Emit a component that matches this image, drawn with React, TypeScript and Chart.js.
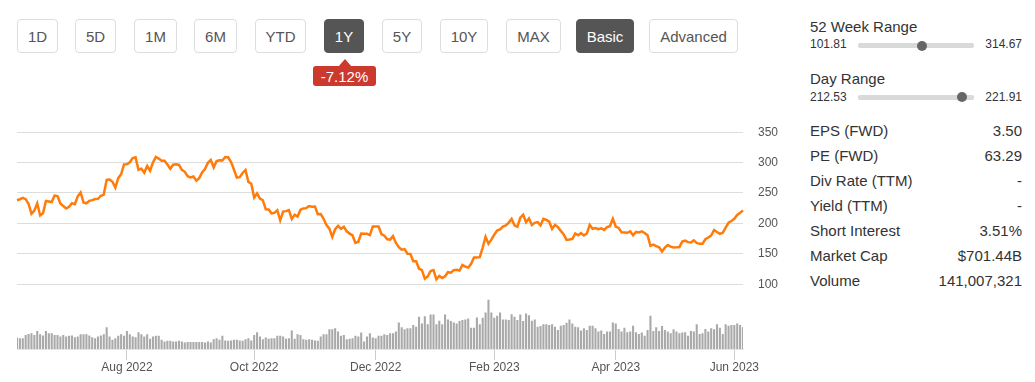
import React, { useEffect, useRef } from "react";
import { Chart, registerables } from "chart.js";

Chart.register(...registerables);

// ---- data ----
const START_DATE = "2022-06-06";
const END_DATE = "2023-06-06";
const HOLIDAYS = [
  "2022-06-20", "2022-07-04", "2022-09-05", "2022-11-24", "2022-12-26",
  "2023-01-02", "2023-01-16", "2023-02-20", "2023-04-07", "2023-05-29",
];
const MONTH_NAMES = ["Jan", "Feb", "Mar", "Apr", "May", "Jun", "Jul", "Aug", "Sep", "Oct", "Nov", "Dec"];
const X_TICK_MONTHS = ["2022-08", "2022-10", "2022-12", "2023-02", "2023-04", "2023-06"];
const PRICE_TICKS = [100, 150, 200, 250, 300, 350];

const PRICE = [
  // Jun 2022
  238.0, 239.7, 241.9, 239.9, 232.0, 215.7, 220.9, 233.0, 213.1, 216.8, 237.0, 236.1, 235.1, 245.7, 244.9, 232.7, 228.5, 224.5,
  // Jul
  227.3, 233.1, 231.7, 244.5, 250.8, 234.3, 233.1, 237.0, 238.3, 240.1, 240.5, 245.5, 247.4, 271.7, 272.2, 268.4, 258.9, 274.4, 280.8, 297.1,
  // Aug
  297.3, 300.6, 307.4, 308.6, 288.2, 290.0, 283.3, 294.4, 286.6, 300.0, 309.3, 306.6, 303.0, 302.9, 296.7, 289.9, 296.5, 297.1, 296.1, 288.1, 284.8, 277.7, 275.6,
  // Sep
  277.2, 270.2, 274.4, 283.7, 289.3, 299.7, 304.4, 292.1, 302.6, 303.8, 303.4, 309.1, 308.7, 300.8, 288.6, 275.3, 276.0, 282.9, 287.7, 268.2, 265.3,
  // Oct
  242.4, 249.4, 240.8, 238.1, 223.1, 223.0, 216.5, 217.2, 221.7, 205.0, 219.4, 220.2, 222.0, 207.3, 214.4, 211.3, 222.4, 224.6, 225.1, 228.5, 227.5,
  // Nov
  227.8, 215.0, 215.3, 207.5, 197.1, 191.3, 177.6, 190.7, 196.0, 191.0, 194.4, 186.9, 183.2, 180.2, 167.9, 169.9, 183.2, 182.9, 182.9, 180.8, 194.7,
  // Dec
  194.7, 194.9, 182.5, 179.8, 174.0, 173.4, 179.1, 167.8, 161.0, 156.8, 157.7, 150.2, 149.9, 137.8, 137.6, 125.4, 123.2, 109.1, 112.7, 121.8, 123.2,
  // Jan 2023
  108.1, 113.6, 110.3, 113.1, 119.8, 118.9, 123.2, 123.6, 122.4, 131.5, 128.8, 127.2, 133.4, 143.8, 143.9, 144.4, 160.3, 177.9, 166.7, 173.2,
  // Feb
  181.4, 188.3, 190.0, 194.8, 196.8, 201.3, 207.3, 196.9, 194.6, 209.3, 214.2, 202.0, 208.3, 197.4, 200.9, 202.1, 196.9, 207.6, 205.7,
  // Mar
  202.8, 190.9, 197.8, 193.8, 187.7, 182.0, 172.9, 173.4, 174.5, 183.3, 180.5, 184.1, 180.1, 183.3, 197.6, 191.2, 192.2, 190.4, 191.8, 189.2, 193.9, 195.3, 207.5,
  // Apr
  194.8, 192.6, 185.5, 185.1, 184.5, 186.8, 180.5, 185.9, 185.0, 187.0, 184.3, 180.6, 163.0, 165.1, 162.6, 160.7, 153.8, 160.2, 164.3,
  // May
  161.8, 160.3, 160.6, 161.2, 170.1, 171.8, 169.2, 168.5, 172.1, 168.0, 166.4, 166.5, 173.9, 176.9, 180.1, 188.9, 185.8, 182.9, 184.5, 193.2, 201.2, 203.9,
  // Jun 2023
  207.5, 214.0, 217.6, 221.3,
];

// volume, millions of shares
const VOLUME = [
  70, 66, 66, 86, 92, 96, 86, 110, 90, 82, 110, 96, 96, 86, 86, 76, 86, 76,
  80, 82, 72, 76, 90, 90, 90, 82, 72, 66, 76, 82, 90, 132, 76, 56, 66, 80, 90, 80,
  110, 90, 76, 72, 102, 90, 76, 90, 62, 76, 80, 80, 56, 46, 50, 50, 46, 46, 50, 46, 40, 42, 42,
  42, 42, 42, 42, 40, 46, 40, 60, 66, 56, 80, 52, 50, 52, 56, 56, 52, 50, 60, 66, 52,
  86, 102, 76, 60, 70, 62, 66, 66, 80, 80, 76, 62, 66, 112, 62, 90, 86, 60, 56, 60, 56,
  52, 50, 76, 90, 90, 120, 120, 126, 106, 80, 86, 60, 62, 66, 80, 76, 100, 46, 76, 96, 70,
  66, 80, 80, 90, 86, 96, 96, 106, 162, 132, 120, 126, 126, 146, 136, 196, 156, 200, 150, 210, 210,
  150, 172, 150, 210, 180, 170, 162, 156, 170, 176, 180, 186, 130, 130, 192, 150, 190, 222, 300, 222,
  190, 202, 222, 180, 180, 176, 212, 196, 176, 210, 170, 216, 206, 172, 180, 136, 140, 150, 150,
  146, 150, 136, 116, 142, 146, 160, 180, 156, 136, 132, 112, 126, 116, 142, 142, 126, 106, 112, 92, 106, 106,
  162, 156, 122, 106, 130, 102, 106, 142, 102, 92, 100, 80, 116, 202, 110, 132, 110, 140, 116,
  106, 96, 120, 106, 96, 100, 102, 80, 110, 106, 150, 92, 96, 122, 106, 126, 120, 150, 130, 92, 150, 142,
  146, 146, 156, 146, 132,
];

const STATS: [string, string][] = [
  ["EPS (FWD)", "3.50"],
  ["PE (FWD)", "63.29"],
  ["Div Rate (TTM)", "-"],
  ["Yield (TTM)", "-"],
  ["Short Interest", "3.51%"],
  ["Market Cap", "$701.44B"],
  ["Volume", "141,007,321"],
];

const BUTTONS = ["1D", "5D", "1M", "6M", "YTD", "1Y", "5Y", "10Y", "MAX", "Basic", "Advanced"];
const ACTIVE = ["1Y", "Basic"];

// ---- helpers ----
function tradingDays(): string[] {
  const out: string[] = [];
  const d = new Date(START_DATE + "T00:00:00Z");
  const end = new Date(END_DATE + "T00:00:00Z");
  while (d <= end) {
    const iso = d.toISOString().slice(0, 10);
    const wd = d.getUTCDay();
    if (wd !== 0 && wd !== 6 && !HOLIDAYS.includes(iso)) out.push(iso);
    d.setUTCDate(d.getUTCDate() + 1);
  }
  return out;
}

const FONT = "'Liberation Sans', Arial, sans-serif";

const BTN_POS: Record<string, [number, number]> = {
  "1D": [17, 41], "5D": [75, 41], "1M": [134, 43], "6M": [194, 43], "YTD": [255, 51],
  "1Y": [324, 40], "5Y": [382, 40], "10Y": [440, 48], "MAX": [506, 55], "Basic": [576, 58], "Advanced": [649, 89],
};

function PriceChart() {
  const ref = useRef<HTMLCanvasElement | null>(null);
  useEffect(() => {
    if (!ref.current) return;
    const labels = tradingDays();
    const tickIdx: number[] = [];
    const tickText: Record<number, string> = {};
    X_TICK_MONTHS.forEach((m) => {
      const i = labels.findIndex((l) => l.startsWith(m));
      if (i >= 0) {
        tickIdx.push(i);
        const [y, mo] = m.split("-");
        tickText[i] = MONTH_NAMES[parseInt(mo, 10) - 1] + " " + y;
      }
    });
    const chart = new Chart(ref.current, {
      type: "bar",
      data: {
        labels,
        datasets: [
          {
            type: "line",
            data: PRICE,
            borderColor: "#ff7b0a",
            borderWidth: 2.5,
            pointRadius: 0,
            tension: 0,
            yAxisID: "y",
            order: 0,
          } as any,
          {
            type: "bar",
            data: VOLUME,
            backgroundColor: "#a9a9a9",
            barPercentage: 0.72,
            categoryPercentage: 1,
            yAxisID: "y2",
            order: 1,
          },
        ],
      },
      options: {
        responsive: false,
        animation: false,
        layout: { padding: { left: 17, top: 19, right: 0, bottom: 0 } },
        plugins: { legend: { display: false }, tooltip: { enabled: false } },
        font: { family: FONT },
        scales: {
          x: {
            type: "category",
            offset: false,
            afterBuildTicks: (scale: any) => {
              scale.ticks = tickIdx.map((v) => ({ value: v }));
            },
            afterFit: (scale: any) => {
              scale.height = 33;
            },
            grid: { display: true, offset: false, drawOnChartArea: false, drawTicks: true, tickLength: 11, color: "#cccccc" },
            border: { display: true, color: "#e4e4e4" },
            ticks: {
              autoSkip: false,
              maxRotation: 0,
              padding: 0,
              color: "#555555",
              font: { family: FONT, size: 12 },
              callback: (value: any) => tickText[value as number] ?? "",
            },
          },
          y: {
            position: "right",
            min: -6.6,
            max: 350,
            afterBuildTicks: (scale: any) => {
              scale.ticks = PRICE_TICKS.map((v) => ({ value: v }));
            },
            afterFit: (scale: any) => {
              scale.width = 57;
            },
            grid: { color: "#dddddd", drawTicks: false },
            border: { display: false },
            ticks: { padding: 15, color: "#555555", font: { family: FONT, size: 12 } },
          },
          y2: {
            display: false,
            min: 0,
            max: 1320,
          },
        },
      } as any,
    });
    return () => chart.destroy();
  }, []);
  return (
    <canvas
      ref={ref}
      width={800}
      height={272}
      style={{ position: "absolute", left: 0, top: 110, width: 800, height: 272 }}
    />
  );
}

function Slider({ y, knob }: { y: number; knob: number }) {
  return (
    <>
      <div style={{ position: "absolute", left: 858, top: y - 2.5, width: 116, height: 5, background: "#d9d9d9", borderRadius: 2 }} />
      <div style={{ position: "absolute", left: knob - 5, top: y - 5, width: 10, height: 10, background: "#666666", borderRadius: 5 }} />
    </>
  );
}

function Txt({ x, y, text, size, right, color }: { x: number; y: number; text: string; size: number; right?: boolean; color?: string }) {
  const style: React.CSSProperties = {
    position: "absolute",
    top: y - 10,
    height: 20,
    lineHeight: "20px",
    fontSize: size,
    fontFamily: FONT,
    color: color || "#333333",
    whiteSpace: "nowrap",
  };
  if (right) style.right = 1035 - x;
  else style.left = x;
  return <div style={style}>{text}</div>;
}

export default function App() {
  return (
    <div style={{ position: "absolute", left: 0, top: 0, width: 1035, height: 382, background: "#ffffff", overflow: "hidden", fontFamily: FONT }}>
      {BUTTONS.map((b) => {
        const [left, w] = BTN_POS[b];
        const active = ACTIVE.includes(b);
        return (
          <div
            key={b}
            style={{
              position: "absolute",
              left,
              top: 19,
              width: w,
              height: 34,
              boxSizing: "border-box",
              border: "1px solid " + (active ? "#555555" : "#dddddd"),
              borderRadius: 4,
              background: active ? "#555555" : "#ffffff",
              color: active ? "#ffffff" : "#555555",
              fontSize: 15,
              display: "flex",
              alignItems: "center",
              justifyContent: "center",
            }}
          >
            {b}
          </div>
        );
      })}
      {/* change badge */}
      <div style={{ position: "absolute", left: 338, top: 59, width: 0, height: 0, borderLeft: "7px solid transparent", borderRight: "7px solid transparent", borderBottom: "8px solid #cb3a2d" }} />
      <div
        style={{
          position: "absolute",
          left: 313,
          top: 66,
          width: 63,
          height: 20,
          background: "#cb3a2d",
          borderRadius: 3,
          color: "#ffffff",
          fontSize: 15,
          display: "flex",
          alignItems: "center",
          justifyContent: "center",
        }}
      >
        -7.12%
      </div>

      <PriceChart />

      {/* right panel */}
      <Txt x={810} y={27} text="52 Week Range" size={15} />
      <Txt x={810} y={44} text="101.81" size={12} />
      <Txt x={1022} y={44} text="314.67" size={12} right />
      <Slider y={45.5} knob={922} />
      <Txt x={810} y={79} text="Day Range" size={15} />
      <Txt x={810} y={96.5} text="212.53" size={12} />
      <Txt x={1022} y={96.5} text="221.91" size={12} right />
      <Slider y={97} knob={962} />
      {STATS.map(([k, v], i) => (
        <React.Fragment key={k}>
          <Txt x={810} y={131 + i * 25} text={k} size={15} />
          <Txt x={1022} y={131 + i * 25} text={v} size={15} right />
        </React.Fragment>
      ))}
    </div>
  );
}
